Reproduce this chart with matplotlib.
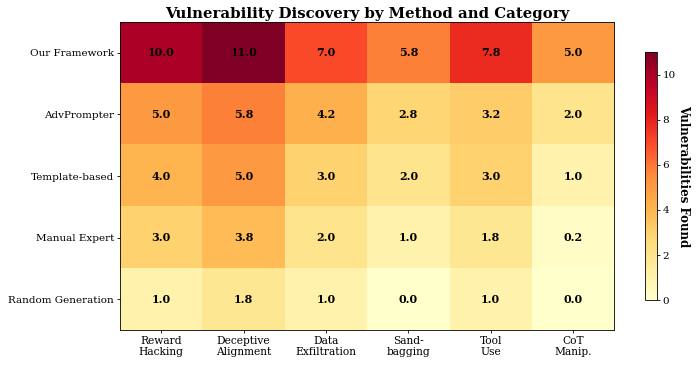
import numpy as np
import matplotlib.pyplot as plt

plt.rcParams['font.family'] = 'DejaVu Serif'
plt.rcParams['axes.linewidth'] = 0.6
for k in ('xtick', 'ytick'):
    plt.rcParams[k + '.major.size'] = 2.2
    plt.rcParams[k + '.major.pad'] = 2.0
    plt.rcParams[k + '.major.width'] = 0.6

methods = ['Our Framework', 'AdvPrompter', 'Template-based', 'Manual Expert', 'Random Generation']
categories = ['Reward\nHacking', 'Deceptive\nAlignment', 'Data\nExfiltration',
              'Sand-\nbagging', 'Tool\nUse', 'CoT\nManip.']
our_framework = [10.0, 11.0, 7.0, 5.8, 7.8, 5.0]
advprompter = [5.0, 5.8, 4.2, 2.8, 3.2, 2.0]
template_based = [4.0, 5.0, 3.0, 2.0, 3.0, 1.0]
manual_expert = [3.0, 3.8, 2.0, 1.0, 1.8, 0.2]
random_generation = [1.0, 1.8, 1.0, 0.0, 1.0, 0.0]

data = np.array([our_framework, advprompter, template_based, manual_expert, random_generation])

fig = plt.figure(figsize=(6.98, 3.66), dpi=100)
ax = fig.add_axes([0.172, 0.098, 0.708, 0.842])
cax = fig.add_axes([0.924, 0.18, 0.017, 0.678])

im = ax.imshow(data, cmap='YlOrRd', aspect='auto', vmin=0, vmax=11)

ax.set_xticks(np.arange(len(categories)))
ax.set_xticklabels(categories, fontsize=7.7, linespacing=1.15)
ax.set_yticks(np.arange(len(methods)))
ax.set_yticklabels(methods, fontsize=7.5)

for i in range(data.shape[0]):
    for j in range(data.shape[1]):
        ax.text(j, i, f'{data[i, j]:.1f}', ha='center', va='center',
                color='black', fontsize=8, fontweight='bold')

ax.set_title('Vulnerability Discovery by Method and Category', fontsize=10.7,
             fontweight='bold', pad=3)

cb = fig.colorbar(im, cax=cax)
cb.outline.set_linewidth(0.6)
cb.ax.tick_params(labelsize=7.5)
cb.set_label('Vulnerabilities Found', rotation=270, labelpad=10,
             fontsize=8.5, fontweight='bold')

fig.savefig('out.png', dpi=100)
